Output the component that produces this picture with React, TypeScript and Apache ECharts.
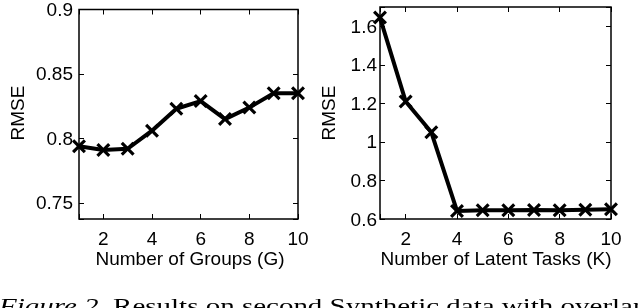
import React, { useEffect, useRef } from "react";
import * as echarts from "echarts";

const groupsX = [1, 2, 3, 4, 5, 6, 7, 8, 9, 10];
const groupsRmse = [0.794, 0.791, 0.792, 0.806, 0.823, 0.829, 0.815, 0.824, 0.835, 0.835];
const tasksX = [1, 2, 3, 4, 5, 6, 7, 8, 9, 10];
const tasksRmse = [1.645, 1.21, 1.05, 0.642, 0.645, 0.645, 0.647, 0.645, 0.648, 0.65];

const leftXLabel = "Number of Groups (G)";
const rightXLabel = "Number of Latent Tasks (K)";
const yLabel = "RMSE";
const captionItalic = "Figure 2.";
const captionRest = " Results on second Synthetic data with overlap";

const FONT = "Liberation Sans";
const FS = 19;
const CROSS = "path://M0,1.6 L1.6,0 L5,3.4 L8.4,0 L10,1.6 L6.6,5 L10,8.4 L8.4,10 L5,6.6 L1.6,10 L0,8.4 L3.4,5 Z";

export default function App() {
  const ref = useRef<HTMLDivElement>(null);
  useEffect(() => {
    const chart = echarts.init(ref.current!, null, { renderer: "svg" });
    const tickStyle = { show: true, inside: true, length: 5, lineStyle: { color: "#000", width: 1 } };
    const labelStyle = { color: "#000", fontFamily: FONT, fontSize: FS };
    const xFmt = (v: number) => (Math.abs(v % 2) < 1e-9 ? String(v) : "");
    const mkX = (gridIndex: number, position: string, labels: boolean) => ({
      type: "value",
      gridIndex,
      position,
      min: 1,
      max: 10,
      splitNumber: 5,
      axisLine: { show: false },
      axisTick: tickStyle,
      splitLine: { show: false },
      axisLabel: labels ? { ...labelStyle, margin: 10, formatter: xFmt } : { show: false },
    });
    const leftYFmt = (v: number) => {
      const r = Math.round(v / 0.05) * 0.05;
      return Math.abs(r - v) < 1e-6 ? String(+v.toFixed(2)) : "";
    };
    const rightYFmt = (v: number) => (v > 1.65 ? "" : String(+v.toFixed(1)));
    const mkY = (gridIndex: number, position: string, labels: boolean, right: boolean) =>
      right
        ? {
            type: "value",
            gridIndex,
            position,
            min: 0.6,
            max: 1.7,
            interval: 0.2,
            axisLine: { show: false },
            axisTick: tickStyle,
            splitLine: { show: false },
            axisLabel: labels ? { ...labelStyle, margin: 3, formatter: rightYFmt } : { show: false },
          }
        : {
            type: "value",
            gridIndex,
            position,
            min: 0.7375,
            max: 0.9,
            splitNumber: 4,
            axisLine: { show: false },
            axisTick: tickStyle,
            splitLine: { show: false },
            axisLabel: labels ? { ...labelStyle, margin: 6, formatter: leftYFmt } : { show: false },
          };
    const seriesStyle = {
      type: "line",
      symbol: CROSS,
      symbolSize: 14,
      lineStyle: { color: "#000", width: 4 },
      itemStyle: { color: "#000" },
    };
    chart.setOption({
      animation: false,
      grid: [
        { left: 79, top: 7, width: 219, height: 212, show: true, borderColor: "#000", borderWidth: 1.5, backgroundColor: "transparent" },
        { left: 380, top: 7, width: 231, height: 212, show: true, borderColor: "#000", borderWidth: 1.5, backgroundColor: "transparent" },
      ],
      xAxis: [mkX(0, "bottom", true), mkX(0, "top", false), mkX(1, "bottom", true), mkX(1, "top", false)],
      yAxis: [mkY(0, "left", true, false), mkY(0, "right", false, false), mkY(1, "left", true, true), mkY(1, "right", false, true)],
      series: [
        { ...seriesStyle, xAxisIndex: 0, yAxisIndex: 0, data: groupsX.map((x, i) => [x, groupsRmse[i]]) },
        { ...seriesStyle, xAxisIndex: 2, yAxisIndex: 2, data: tasksX.map((x, i) => [x, tasksRmse[i]]) },
      ],
      graphic: [
        { type: "text", x: 190, y: 258, style: { text: leftXLabel, fill: "#000", font: `${FS}px '${FONT}'`, align: "center", verticalAlign: "middle" } },
        { type: "text", x: 496, y: 258, style: { text: rightXLabel, fill: "#000", font: `${FS}px '${FONT}'`, align: "center", verticalAlign: "middle" } },
        { type: "text", x: 17, y: 113, rotation: Math.PI / 2, style: { text: yLabel, fill: "#000", font: `${FS}px '${FONT}'`, align: "center", verticalAlign: "middle" } },
        { type: "text", x: 328, y: 113, rotation: Math.PI / 2, style: { text: yLabel, fill: "#000", font: `${FS}px '${FONT}'`, align: "center", verticalAlign: "middle" } },
        {
          type: "text",
          x: -1,
          y: 296,
          scaleX: 1.45,
          style: {
            text: `{i|${captionItalic}}{n|${captionRest}}`,
            fill: "#000",
            verticalAlign: "top",
            rich: {
              i: { fontFamily: "Liberation Serif", fontStyle: "italic", fontSize: 20, fill: "#000" },
              n: { fontFamily: "Liberation Serif", fontSize: 20, fill: "#000" },
            },
          },
        },
      ],
    });
    return () => chart.dispose();
  }, []);
  return <div ref={ref} style={{ position: "fixed", left: 0, top: 0, width: 638, height: 308 }} />;
}
